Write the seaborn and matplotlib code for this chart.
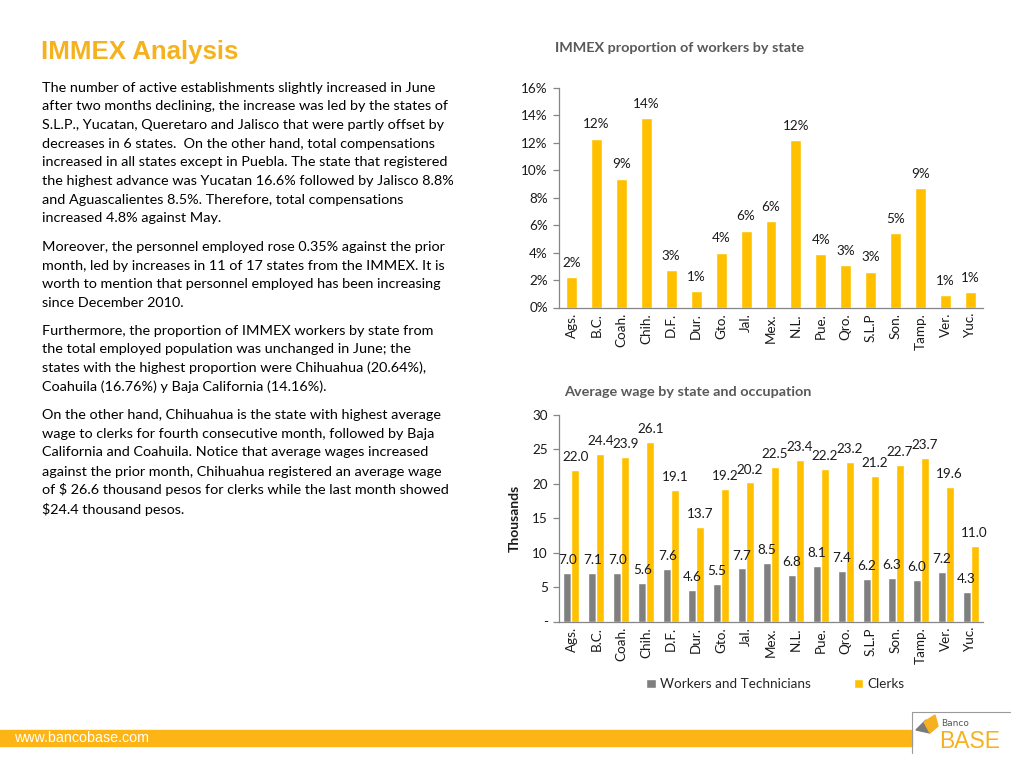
import matplotlib
matplotlib.use("Agg")
import matplotlib.pyplot as plt
import seaborn as sns
import pandas as pd
from matplotlib.patches import Rectangle, Polygon
from matplotlib.lines import Line2D

# ---------------- data ----------------
states = ["Ags.", "B.C.", "Coah.", "Chih.", "D.F.", "Dur.", "Gto.", "Jal.", "Mex.",
          "N.L.", "Pue.", "Qro.", "S.L.P", "Son.", "Tamp.", "Ver.", "Yuc."]
proportion_pct = [2.2, 12.3, 9.4, 13.8, 2.7, 1.2, 4.0, 5.6, 6.3,
                  12.2, 3.9, 3.1, 2.6, 5.4, 8.7, 0.9, 1.1]
workers_wage = [7.0, 7.1, 7.0, 5.6, 7.6, 4.6, 5.5, 7.7, 8.5,
                6.8, 8.1, 7.4, 6.2, 6.3, 6.0, 7.2, 4.3]
clerks_wage = [22.0, 24.4, 23.9, 26.1, 19.1, 13.7, 19.2, 20.2, 22.5,
               23.4, 22.2, 23.2, 21.2, 22.7, 23.7, 19.6, 11.0]
series_names = ["Workers and Technicians", "Clerks"]
prop_ticks = [0, 2, 4, 6, 8, 10, 12, 14, 16]
prop_tick_labels = ["0%", "2%", "4%", "6%", "8%", "10%", "12%", "14%", "16%"]
wage_ticks = [0, 5, 10, 15, 20, 25, 30]
wage_tick_labels = ["-", "5", "10", "15", "20", "25", "30"]

title_main = "IMMEX Analysis"
title_top = "IMMEX proportion of workers by state"
title_bottom = "Average wage by state and occupation"
ylabel_bottom = "Thousands"
footer_text = "www.bancobase.com"

paragraph_lines = [
    ("The number of active establishments slightly increased in June", 88),
    ("after two months declining, the increase was led by the states of", 106.5),
    ("S.L.P., Yucatan, Queretaro and Jalisco that were partly offset by", 125),
    ("decreases in 6 states.  On the other hand, total compensations", 143.5),
    ("increased in all states except in Puebla. The state that registered", 162),
    ("the highest advance was Yucatan 16.6% followed by Jalisco 8.8%", 181),
    ("and Aguascalientes 8.5%. Therefore, total compensations", 199.5),
    ("increased 4.8% against May.", 218),
    ("Moreover, the personnel employed rose 0.35% against the prior", 247),
    ("month, led by increases in 11 of 17 states from the IMMEX. It is", 266),
    ("worth to mention that personnel employed has been increasing", 284.5),
    ("since December 2010.", 303),
    ("Furthermore, the proportion of IMMEX workers by state from", 330.5),
    ("the total employed population was unchanged in June; the", 349),
    ("states with the highest proportion were Chihuahua (20.64%),", 368),
    ("Coahuila (16.76%) y Baja California (14.16%).", 386.5),
    ("On the other hand, Chihuahua is the state with highest average", 415),
    ("wage to clerks for fourth consecutive month, followed by Baja", 434),
    ("California and Coahuila. Notice that average wages increased", 452.5),
    ("against the prior month, Chihuahua registered an average wage", 471.5),
    ("of \\$ 26.6 thousand pesos for clerks while the last month showed", 490),
    ("\\$24.4 thousand pesos.", 509),
]

# ---------------- style ----------------
sns.set_style("white")
plt.rcParams["font.family"] = ["Lato", "DejaVu Sans"]
GOLD = "#FFC000"
GRAY = "#7F7F7F"
ORANGE = "#F5B21E"
AXIS = "#868686"
TXT = "#1A1A1A"

W, H = 1024, 768
fig = plt.figure(figsize=(W / 100, H / 100), dpi=100)


def fx(px):
    return px / W


def fy(py):
    return 1 - py / H


# ---------------- left text ----------------
fig.text(fx(41), fy(52), title_main, fontsize=18.6, fontweight="bold",
         family="Liberation Sans", color=ORANGE, va="center", ha="left")

texts = []
for line, y in paragraph_lines:
    t = fig.text(fx(42), fy(y), line, fontsize=10.5, color="#000000",
                 va="center", ha="left")
    texts.append(t)
fig.canvas.draw()
r = fig.canvas.get_renderer()
w0 = texts[0].get_window_extent(r).width
scale = 395.0 / w0
for t in texts:
    t.set_fontsize(10.5 * scale)


def style_axes(ax):
    for s in ["top", "right"]:
        ax.spines[s].set_visible(False)
    for s in ["left", "bottom"]:
        ax.spines[s].set_color(AXIS)
        ax.spines[s].set_linewidth(0.9)
    ax.set_xlim(-0.5, len(states) - 0.5)
    ax.set_xticks(range(len(states)))
    ax.set_xticklabels(states, rotation=90, fontsize=9.7, color=TXT)
    ax.tick_params(axis="x", which="major", length=0, pad=4)
    ax.set_xticks([i + 0.5 for i in range(-1, len(states))], minor=True)
    ax.tick_params(axis="x", which="minor", length=4, color=AXIS, width=0.9)
    ax.tick_params(axis="y", which="major", length=4, color=AXIS, width=0.9,
                   labelsize=9.7, labelcolor=TXT, left=True, pad=4)
    ax.set_xlabel("")
    ax.grid(False)


# ---------------- top chart ----------------
ax1 = fig.add_axes([fx(559), fy(307.5), fx(983) - fx(559), fy(88) - fy(307.5)])
df1 = pd.DataFrame({"state": states, "pct": proportion_pct})
sns.barplot(data=df1, x="state", y="pct", color=GOLD, width=0.44,
            saturation=1, ax=ax1)
ax1.set_ylim(0, 16)
ax1.set_yticks(prop_ticks)
ax1.set_yticklabels(prop_tick_labels)
ax1.set_ylabel("")
style_axes(ax1)
ax1.bar_label(ax1.containers[0], labels=[f"{round(v)}%" for v in proportion_pct],
              padding=6, fontsize=9.7, color=TXT)
fig.text(fx(680), fy(48), title_top, fontsize=10.4, fontweight="bold",
         color="#595959", ha="center", va="center")

# ---------------- bottom chart ----------------
ax2 = fig.add_axes([fx(559), fy(621.5), fx(983) - fx(559), fy(415) - fy(621.5)])
df2 = pd.DataFrame({
    "state": states * 2,
    "wage": workers_wage + clerks_wage,
    "series": [series_names[0]] * len(states) + [series_names[1]] * len(states),
})
sns.barplot(data=df2, x="state", y="wage", hue="series", hue_order=series_names,
            palette=[GRAY, GOLD], width=0.64, saturation=1, ax=ax2)
ax2.set_ylim(0, 30)
ax2.set_yticks(wage_ticks)
ax2.set_yticklabels(wage_tick_labels)
ax2.set_ylabel(ylabel_bottom, fontsize=10, fontweight="bold", color=TXT, labelpad=8)
style_axes(ax2)
for cont in ax2.containers:
    ax2.bar_label(cont, fmt="%.1f", padding=5, fontsize=9.7, color=TXT)
sns.move_legend(ax2, "center", bbox_to_anchor=(0.51, -0.303), ncol=2,
                frameon=False, title=None, fontsize=9.7, handlelength=0.7,
                handleheight=0.7, columnspacing=3.2, handletextpad=0.3)
fig.text(fx(688), fy(392), title_bottom, fontsize=10.4, fontweight="bold",
         color="#595959", ha="center", va="center")

# ---------------- footer ----------------
fig.patches.append(Rectangle((0, fy(746)), fx(912), fy(730) - fy(746),
                             transform=fig.transFigure, color="#FDB515", zorder=1))
fig.text(fx(14), fy(738), footer_text, fontsize=10.3, family="Liberation Sans",
         color="white", va="center", ha="left", zorder=2)
# logo box
fig.lines.append(Line2D([fx(912), fx(1010)], [fy(712), fy(712)],
                        transform=fig.transFigure, color="#9A9A9A", lw=0.8))
fig.lines.append(Line2D([fx(912), fx(912)], [fy(712), fy(753)],
                        transform=fig.transFigure, color="#9A9A9A", lw=0.8))
fig.patches.append(Polygon([(fx(916), fy(730)), (fx(926), fy(720)),
                            (fx(930), fy(733))], closed=True,
                           transform=fig.transFigure, color="#7A7A7A"))
fig.patches.append(Polygon([(fx(924), fy(722)), (fx(935), fy(715)),
                            (fx(938), fy(726)), (fx(930), fy(733))], closed=True,
                           transform=fig.transFigure, color="#F5B21E"))
fig.text(fx(941), fy(724), "Banco", fontsize=6.5, color="#555555",
         family="Liberation Sans Narrow", va="center", ha="left")
fig.text(fx(939), fy(741), "BASE", fontsize=16.5, color="#F5B21E",
         family="Liberation Sans", va="center", ha="left")

fig.savefig("out.png", dpi=100)
